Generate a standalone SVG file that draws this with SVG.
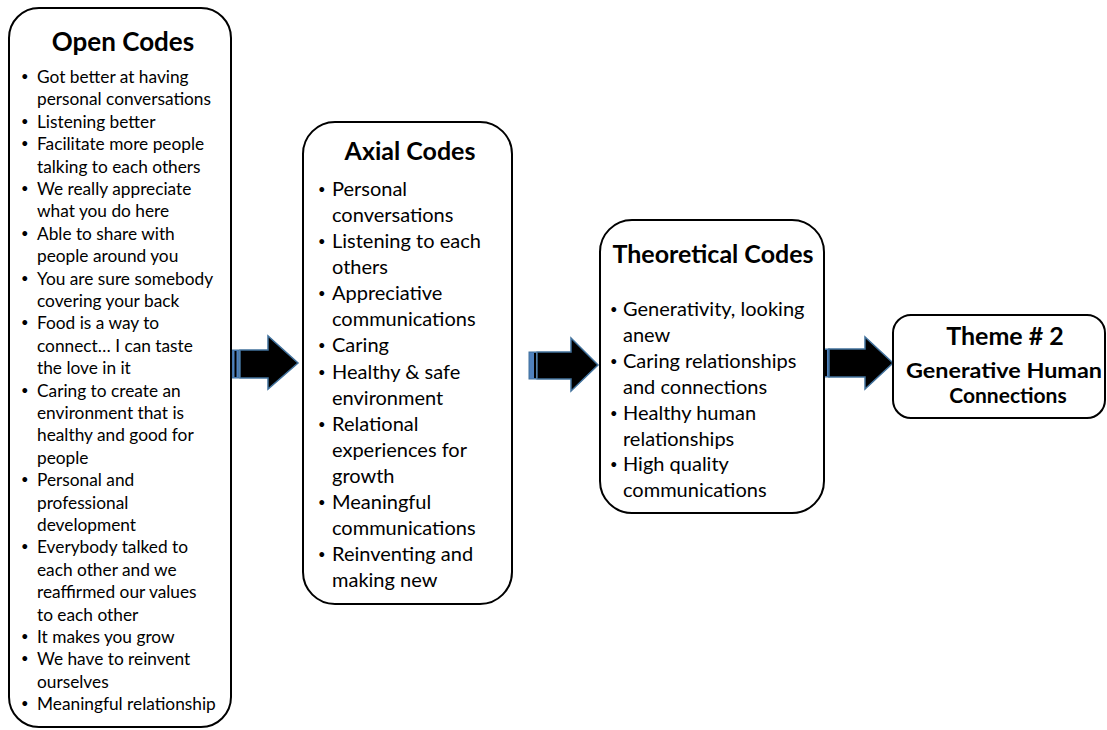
<svg xmlns="http://www.w3.org/2000/svg" width="1107" height="730" viewBox="0 0 1107 730">
  <style>
    .box { fill: #ffffff; stroke: #000000; stroke-width: 2; }
    .title { font-family: Lato, "Liberation Sans", sans-serif; font-weight: bold; fill: #000; text-anchor: middle; }
    .body { font-family: Lato, "Liberation Sans", sans-serif; fill: #000; }
    .small { font-size: 17.3px; }
    .mid { font-size: 20px; }
    .dot { font-size: 13px; }
    .arrow { fill: #000000; stroke: #41719c; stroke-width: 1.5; stroke-linejoin: miter; }
    .stripe { fill: #4f81bd; stroke: #41719c; stroke-width: 1; }
    .stripe-line { stroke: #000000; stroke-width: 2; }
  </style>

  <!-- Block arrows between the stages -->
  <g id="connectors">
    <g id="arrow-open-axial">
      <rect class="stripe" x="232" y="350" width="7" height="28"/>
      <line class="stripe-line" x1="235.5" y1="351" x2="235.5" y2="377"/>
      <polygon class="arrow" points="240,350 268,350 268,336 298,363 268,389 268,378 240,378"/>
    </g>
    <g id="arrow-axial-theoretical">
      <rect class="stripe" x="529" y="352" width="7" height="27"/>
      <line class="stripe-line" x1="535" y1="353" x2="535" y2="378"/>
      <polygon class="arrow" points="537,352 571,352 571,338 598,365 571,391 571,379 537,379"/>
    </g>
    <g id="arrow-theoretical-theme">
      <rect class="stripe" x="822" y="349" width="7" height="28"/>
      <line class="stripe-line" x1="826" y1="350" x2="826" y2="376"/>
      <polygon class="arrow" points="829,349 865,349 865,337 893,363 865,389 865,377 829,377"/>
    </g>
  </g>

  <!-- Stage 1: open codes -->
  <g id="open-codes">
    <rect class="box" x="9" y="8" width="222" height="719" rx="30" ry="30"/>
    <text class="title" x="123" y="51" font-size="26">Open Codes</text>
    <text class="body small">
      <tspan class="dot" x="21" y="81">•</tspan><tspan x="37" y="83">Got better at having</tspan>
      <tspan x="37" y="105.4">personal conversations</tspan>
      <tspan class="dot" x="21" y="125.8">•</tspan><tspan x="37" y="127.8">Listening better</tspan>
      <tspan class="dot" x="21" y="148.2">•</tspan><tspan x="37" y="150.2">Facilitate more people</tspan>
      <tspan x="37" y="172.6">talking to each others</tspan>
      <tspan class="dot" x="21" y="193">•</tspan><tspan x="37" y="195">We really appreciate</tspan>
      <tspan x="37" y="217.4">what you do here</tspan>
      <tspan class="dot" x="21" y="237.8">•</tspan><tspan x="37" y="239.8">Able to share with</tspan>
      <tspan x="37" y="262.2">people around you</tspan>
      <tspan class="dot" x="21" y="282.6">•</tspan><tspan x="37" y="284.6">You are sure somebody</tspan>
      <tspan x="37" y="307">covering your back</tspan>
      <tspan class="dot" x="21" y="327.4">•</tspan><tspan x="37" y="329.4">Food is a way to</tspan>
      <tspan x="37" y="351.8">connect… I can taste</tspan>
      <tspan x="37" y="374.2">the love in it</tspan>
      <tspan class="dot" x="21" y="394.6">•</tspan><tspan x="37" y="396.6">Caring to create an</tspan>
      <tspan x="37" y="419">environment that is</tspan>
      <tspan x="37" y="441.4">healthy and good for</tspan>
      <tspan x="37" y="463.8">people</tspan>
      <tspan class="dot" x="21" y="484.2">•</tspan><tspan x="37" y="486.2">Personal and</tspan>
      <tspan x="37" y="508.6">professional</tspan>
      <tspan x="37" y="531">development</tspan>
      <tspan class="dot" x="21" y="551.4">•</tspan><tspan x="37" y="553.4">Everybody talked to</tspan>
      <tspan x="37" y="575.8">each other and we</tspan>
      <tspan x="37" y="598.2">reaffirmed our values</tspan>
      <tspan x="37" y="620.6">to each other</tspan>
      <tspan class="dot" x="21" y="641">•</tspan><tspan x="37" y="643">It makes you grow</tspan>
      <tspan class="dot" x="21" y="663.4">•</tspan><tspan x="37" y="665.4">We have to reinvent</tspan>
      <tspan x="37" y="687.8">ourselves</tspan>
      <tspan class="dot" x="21" y="708.2">•</tspan><tspan x="37" y="710.2">Meaningful relationship</tspan>
    </text>
  </g>

  <!-- Stage 2: axial codes -->
  <g id="axial-codes">
    <rect class="box" x="303" y="122" width="209" height="482" rx="32" ry="32"/>
    <text class="title" x="410" y="160" font-size="25">Axial Codes</text>
    <text class="body mid">
      <tspan class="dot" x="318" y="194">•</tspan><tspan x="332" y="196">Personal</tspan>
      <tspan x="332" y="222.1">conversations</tspan>
      <tspan class="dot" x="318" y="246.1">•</tspan><tspan x="332" y="248.1">Listening to each</tspan>
      <tspan x="332" y="274.2">others</tspan>
      <tspan class="dot" x="318" y="298.3">•</tspan><tspan x="332" y="300.3">Appreciative</tspan>
      <tspan x="332" y="326.4">communications</tspan>
      <tspan class="dot" x="318" y="350.4">•</tspan><tspan x="332" y="352.4">Caring</tspan>
      <tspan class="dot" x="318" y="376.5">•</tspan><tspan x="332" y="378.5">Healthy &amp; safe</tspan>
      <tspan x="332" y="404.6">environment</tspan>
      <tspan class="dot" x="318" y="428.6">•</tspan><tspan x="332" y="430.6">Relational</tspan>
      <tspan x="332" y="456.7">experiences for</tspan>
      <tspan x="332" y="482.8">growth</tspan>
      <tspan class="dot" x="318" y="506.8">•</tspan><tspan x="332" y="508.8">Meaningful</tspan>
      <tspan x="332" y="534.9">communications</tspan>
      <tspan class="dot" x="318" y="559">•</tspan><tspan x="332" y="561">Reinventing and</tspan>
      <tspan x="332" y="587">making new</tspan>
    </text>
  </g>

  <!-- Stage 3: theoretical codes -->
  <g id="theoretical-codes">
    <rect class="box" x="600" y="220" width="224" height="293" rx="32" ry="32"/>
    <text class="title" x="713" y="263" font-size="25">Theoretical Codes</text>
    <text class="body mid">
      <tspan class="dot" x="610" y="314">•</tspan><tspan x="623" y="316">Generativity, looking</tspan>
      <tspan x="623" y="341.9">anew</tspan>
      <tspan class="dot" x="610" y="365.8">•</tspan><tspan x="623" y="367.8">Caring relationships</tspan>
      <tspan x="623" y="393.7">and connections</tspan>
      <tspan class="dot" x="610" y="417.6">•</tspan><tspan x="623" y="419.6">Healthy human</tspan>
      <tspan x="623" y="445.5">relationships</tspan>
      <tspan class="dot" x="610" y="469.4">•</tspan><tspan x="623" y="471.4">High quality</tspan>
      <tspan x="623" y="497.3">communications</tspan>
    </text>
  </g>

  <!-- Outcome: theme -->
  <g id="theme-2">
    <rect class="box" x="893" y="315" width="212" height="103" rx="18" ry="18"/>
    <text class="title" x="1005" y="345" font-size="25">Theme # 2</text>
    <text class="title" x="1004" y="378" font-size="20" textLength="196" lengthAdjust="spacingAndGlyphs">Generative Human</text>
    <text class="title" x="1008" y="403" font-size="21">Connections</text>
  </g>
</svg>
